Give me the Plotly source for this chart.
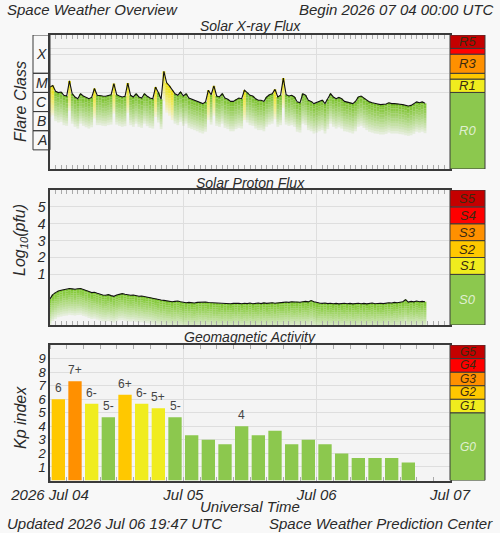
import numpy as np
import pandas as pd
import plotly.graph_objects as go

START = "2026-07-04 00:00"
END = "2026-07-07 00:00"

# GOES X-ray flux (W/m^2), half-hourly samples from 2026-07-04 00:00 UTC
xray_flux = [
    1.9e-5, 2.3e-5, 1.15e-5, 9.8e-6, 1.05e-5, 7.1e-6, 6.5e-6, 4.0e-5, 8.5e-6, 5.8e-6,
    4.7e-6, 8.5e-6, 6.5e-6, 5.5e-6, 4.7e-6, 5.5e-6, 1.6e-5, 7.1e-6, 7.1e-6, 6.5e-6,
    6.3e-6, 7.1e-6, 7.6e-6, 2.9e-5, 7.6e-6, 6.5e-6, 5.8e-6, 6.3e-6, 3.1e-5, 7.1e-6,
    5.8e-6, 8.5e-6, 5.8e-6, 5.1e-6, 8.5e-6, 6.3e-6, 5.1e-6, 4.7e-6, 1.9e-5, 9.8e-6,
    4.4e-6, 1.26e-4, 3.2e-5, 2.2e-5, 1.3e-5, 8.5e-6, 7.1e-6, 1.05e-5, 6.5e-6, 8.5e-6,
    5.1e-6, 4.4e-6, 3.9e-6, 3.4e-6, 2.9e-6, 2.6e-6, 3.2e-6, 1.3e-5, 7.6e-6, 2.2e-5,
    6.5e-6, 5.8e-6, 8.5e-6, 5.1e-6, 4.4e-6, 3.4e-6, 3.4e-6, 4.4e-6, 5.1e-6, 4.7e-6,
    1.3e-5, 9.8e-6, 7.1e-6, 6.5e-6, 4.7e-6, 3.9e-6, 3.9e-6, 3.4e-6, 5.8e-6, 7.6e-6,
    8.5e-6, 1.45e-5, 5.8e-6, 7.1e-6, 5.6e-5, 7.6e-6, 6.5e-6, 7.1e-6, 5.8e-6, 3.2e-6,
    2.9e-6, 8.5e-6, 7.1e-6, 3.9e-6, 3.4e-6, 2.6e-6, 2.9e-6, 3.4e-6, 3.9e-6, 2.6e-6,
    4.4e-6, 8.5e-6, 5.8e-6, 4.7e-6, 5.5e-6, 4.7e-6, 3.4e-6, 3.2e-6, 2.9e-6, 2.6e-6,
    3.4e-6, 5.8e-6, 6.5e-6, 5.1e-6, 3.9e-6, 3.2e-6, 2.9e-6, 2.6e-6, 2.5e-6, 2.3e-6,
    2.3e-6, 2.5e-6, 2.9e-6, 2.6e-6, 2.6e-6, 2.6e-6, 2.4e-6, 2.3e-6, 2.1e-6, 1.95e-6,
    2.1e-6, 2.5e-6, 3.2e-6, 2.9e-6, 3.2e-6, 2.7e-6,
]

# GOES >=10 MeV proton flux, log10(pfu), half-hourly from 2026-07-04 00:00 UTC
proton_log = [
    -0.45, -0.20, -0.08, 0.02, 0.06, 0.10, 0.12, 0.16, 0.14, 0.12,
    0.15, 0.16, 0.10, 0.06, -0.02, -0.08, -0.06, -0.12, -0.18, -0.22,
    -0.24, -0.20, -0.26, -0.30, -0.22, -0.16, -0.14, -0.18, -0.22, -0.24,
    -0.22, -0.26, -0.30, -0.28, -0.32, -0.34, -0.36, -0.40, -0.44, -0.48,
    -0.52, -0.54, -0.57, -0.58, -0.62, -0.60, -0.58, -0.62, -0.66, -0.68,
    -0.66, -0.68, -0.70, -0.66, -0.64, -0.66, -0.64, -0.67, -0.68, -0.70,
    -0.70, -0.72, -0.74, -0.72, -0.73, -0.74, -0.72, -0.70, -0.72, -0.74,
    -0.71, -0.73, -0.70, -0.74, -0.72, -0.70, -0.73, -0.69, -0.72, -0.70,
    -0.68, -0.71, -0.68, -0.66, -0.66, -0.64, -0.66, -0.62, -0.64, -0.62,
    -0.65, -0.62, -0.60, -0.63, -0.55, -0.62, -0.68, -0.70, -0.72, -0.70,
    -0.73, -0.71, -0.74, -0.72, -0.75, -0.73, -0.71, -0.74, -0.72, -0.75,
    -0.73, -0.71, -0.74, -0.72, -0.75, -0.73, -0.70, -0.74, -0.72, -0.71,
    -0.73, -0.70, -0.68, -0.70, -0.66, -0.68, -0.64, -0.62, -0.50, -0.64,
    -0.60, -0.63, -0.58, -0.62, -0.60, -0.62,
]

# Planetary K index, 3-hourly from 2026-07-04 00:00 UTC
kp_labels = ["6", "7+", "6-", "5-", "6+", "6-", "5+", "5-",
             "3+", "3", "3-", "4", "3+", "4-", "3-", "3",
             "3-", "2", "2-", "2-", "2-", "1+"]

FONT = "Liberation Sans, Arial, sans-serif"
TXT = "#2a2a2a"
GREEN = "#8cc84e"
YEL = "#f0ec1e"
GOLD = "#ffc800"
ORANGE = "#ff9000"
RED = "#ff0000"
DRED = "#c40000"
FRAME = "#3a3a3a"
GRID = "#dedede"


def kp_value(s):
    v = float(s[0])
    if s.endswith("+"):
        v += 1 / 3
    elif s.endswith("-"):
        v -= 1 / 3
    return v


def kp_color(v):
    if v < 4.99:
        return GREEN
    if v < 5.99:
        return YEL
    if v < 6.99:
        return GOLD
    if v < 7.99:
        return ORANGE
    if v < 8.99:
        return RED
    return DRED


times = pd.date_range(START, periods=len(xray_flux), freq="30min")
ptimes = pd.date_range(START, periods=len(proton_log), freq="30min")
xlog = np.log10(np.array(xray_flux))
plog = np.array(proton_log)

fig = go.Figure()

# gradient fills drawn as stacked translucent bands under each sample
K = 12
D = 0.13
WIDTH_MS = 30 * 60 * 1000
for k in range(K):
    a = 0.95 * (1 - k / K) ** 0.9 + 0.02
    cols = [f"rgba(236,226,0,{a:.3f})" if v >= np.log10(1.2e-5) else f"rgba(118,192,36,{a:.3f})"
            for v in xlog]
    fig.add_trace(go.Bar(x=times, y=[D] * len(xlog), base=xlog - (k + 1) * D, width=WIDTH_MS,
                         marker=dict(color=cols, line=dict(width=0)), xaxis="x", yaxis="y",
                         hoverinfo="skip"))
    pcols = f"rgba(122,198,40,{a:.3f})"
    fig.add_trace(go.Bar(x=ptimes, y=[D] * len(plog), base=plog - (k + 1) * D, width=WIDTH_MS,
                         marker=dict(color=pcols, line=dict(width=0)), xaxis="x2", yaxis="y2",
                         hoverinfo="skip"))

fig.add_trace(go.Scatter(x=times, y=xlog, mode="lines", line=dict(color="#111", width=1.1),
                         xaxis="x", yaxis="y"))
fig.add_trace(go.Scatter(x=ptimes, y=plog, mode="lines", line=dict(color="#111", width=1.1),
                         xaxis="x2", yaxis="y2"))

kp_vals = [kp_value(s) for s in kp_labels]
kp_times = pd.date_range(START, periods=len(kp_vals), freq="3h") + pd.Timedelta(minutes=90)
fig.add_trace(go.Bar(x=kp_times, y=kp_vals, width=3 * 3600 * 1000 * 0.8,
                     marker=dict(color=[kp_color(v) for v in kp_vals], line=dict(width=0)),
                     xaxis="x3", yaxis="y3"))

dom_x = [0.1, 0.9]
dom_xr = [1 - 169 / 533, 1 - 35 / 533]
dom_pr = [1 - 325 / 533, 1 - 190 / 533]
dom_kp = [1 - 480.5 / 533, 1 - 345 / 533]

common_x = dict(type="date", range=[START, END], domain=dom_x, showline=True, linecolor=FRAME,
                linewidth=1.5, mirror="ticks", showgrid=True, gridcolor=GRID, gridwidth=1,
                tick0=START, dtick=86400000, ticks="", zeroline=False, automargin=False)

tf = dict(family=FONT, size=15, color=TXT, style="italic")
tfy = dict(family=FONT, size=13, color=TXT, style="italic")
common_y = dict(showgrid=True, gridcolor=GRID, zeroline=False, showline=True, linecolor=FRAME,
                linewidth=1.5, mirror=True, ticks="", tickmode="array", automargin=False)

fig.update_layout(
    width=500, height=533, margin=dict(l=0, r=0, t=0, b=0, autoexpand=False),
    paper_bgcolor="#f8f8f8", plot_bgcolor="#f4f4f4", showlegend=False,
    barmode="overlay", font=dict(family=FONT, color=TXT),
    xaxis=dict(common_x, anchor="y", showticklabels=False,
               minor=dict(dtick=3600000, tick0=START, ticks="inside", ticklen=4, tickcolor="#aaa",
                          showgrid=False)),
    xaxis2=dict(common_x, anchor="y2", showticklabels=False,
                minor=dict(dtick=3600000, tick0=START, ticks="inside", ticklen=4, tickcolor="#aaa",
                           showgrid=False)),
    xaxis3=dict(common_x, anchor="y3", tickmode="array",
                tickvals=["2026-07-04", "2026-07-05", "2026-07-06", "2026-07-07"],
                ticktext=["2026 Jul 04", "Jul 05", "Jul 06", "Jul 07"], tickfont=tf,
                minor=dict(dtick=3 * 3600000, tick0=START, ticks="inside", ticklen=4, tickcolor="#aaa",
                           showgrid=False)),
    yaxis=dict(common_y, domain=dom_xr, range=[-9, -2], anchor="x", showticklabels=False,
               tickvals=[-5, np.log10(5e-5), -4, -3, np.log10(2e-3)]),
    yaxis2=dict(common_y, domain=dom_pr, range=[-2, 6], anchor="x2", tickvals=[1, 2, 3, 4, 5],
                tickfont=dict(tfy, size=14)),
    yaxis3=dict(common_y, domain=dom_kp, range=[0, 10], anchor="x3", tickvals=list(range(1, 10)),
                tickfont=tfy),
)

shapes = []
annots = []


def ann(text, x, y, size=14, xanchor="center", yref="paper", color=TXT, angle=0, xref="paper",
        yanchor="middle", italic=True):
    annots.append(dict(text=text, x=x, y=y, xref=xref, yref=yref, showarrow=False, xanchor=xanchor,
                       yanchor=yanchor, textangle=angle,
                       font=dict(family=FONT, size=size, color=color,
                                 style="italic" if italic else "normal")))


# Kp value labels above bars of Kp >= 4
for t, s, v in zip(kp_times, kp_labels, kp_vals):
    if v >= 3.99:
        ann(s, t, v + 0.15, size=12, xref="x3", yref="y3", yanchor="bottom", color="#444",
            italic=False)

# Scale boxes on the right
BX0, BX1 = 0.9, 0.97
r_boxes = [(-9, -5, GREEN, "R0"), (-5, np.log10(5e-5), YEL, "R1"), (np.log10(5e-5), -4, GOLD, ""),
           (-4, -3, ORANGE, "R3"), (-3, np.log10(2e-3), RED, ""), (np.log10(2e-3), -2, DRED, "R5")]
s_boxes = [(-2, 1, GREEN, "S0"), (1, 2, YEL, "S1"), (2, 3, GOLD, "S2"), (3, 4, ORANGE, "S3"),
           (4, 5, RED, "S4"), (5, 6, DRED, "S5")]
g_boxes = [(0, 5, GREEN, "G0"), (5, 6, YEL, "G1"), (6, 7, GOLD, "G2"), (7, 8, ORANGE, "G3"),
           (8, 9, RED, "G4"), (9, 10, DRED, "G5")]
for yref, boxes, fs in (("y", r_boxes, 13), ("y2", s_boxes, 13), ("y3", g_boxes, 12)):
    for y0, y1, c, lab in boxes:
        shapes.append(dict(type="rect", xref="paper", yref=yref, x0=BX0, x1=BX1, y0=y0, y1=y1,
                           fillcolor=c, line=dict(color=FRAME, width=1)))
        if lab:
            col = "rgba(235,245,225,0.9)" if lab.endswith("0") else "#3a2a10"
            ann(lab, (BX0 + BX1) / 2, (y0 + y1) / 2, size=fs, yref=yref, color=col)

# Flare class boxes on the left of the X-ray panel
FX0, FX1 = 33 / 500, 0.1
for y0, y1, lab in [(-4, -2, "X"), (-5, -4, "M"), (-6, -5, "C"), (-7, -6, "B"), (-8, -7, "A")]:
    shapes.append(dict(type="rect", xref="paper", yref="y", x0=FX0, x1=FX1, y0=y0, y1=y1,
                       fillcolor="rgba(0,0,0,0)", line=dict(color=FRAME, width=1)))
    ann(lab, (FX0 + FX1) / 2, (y0 + y1) / 2, size=14, yref="y")

# Titles and labels
ann("Space Weather Overview", 5 / 500, 1 - 9 / 533, size=15, xanchor="left")
ann("Begin 2026 07 04 00:00 UTC", 495 / 500, 1 - 9 / 533, size=15, xanchor="right")
ann("Solar X-ray Flux", 0.5, 1 - 26.5 / 533, size=14)
ann("Solar Proton Flux", 0.5, 1 - 183 / 533, size=14)
ann("Geomagnetic Activity", 0.5, 1 - 337 / 533, size=14)
ann("Flare Class", 20 / 500, 1 - 102 / 533, size=16, angle=-90)
ann("Log<sub>10</sub>(pfu)", 20 / 500, 1 - 240 / 533, size=16, angle=-90)
ann("Kp index", 20 / 500, 1 - 418 / 533, size=16, angle=-90)
ann("Universal Time", 0.5, 1 - 506 / 533, size=15)
ann("Updated 2026 Jul 06 19:47 UTC", 5 / 500, 1 - 523 / 533, size=15, xanchor="left")
ann("Space Weather Prediction Center", 495 / 500, 1 - 523 / 533, size=15, xanchor="right")

fig.update_layout(shapes=shapes, annotations=annots)
fig.write_html("out.html")
